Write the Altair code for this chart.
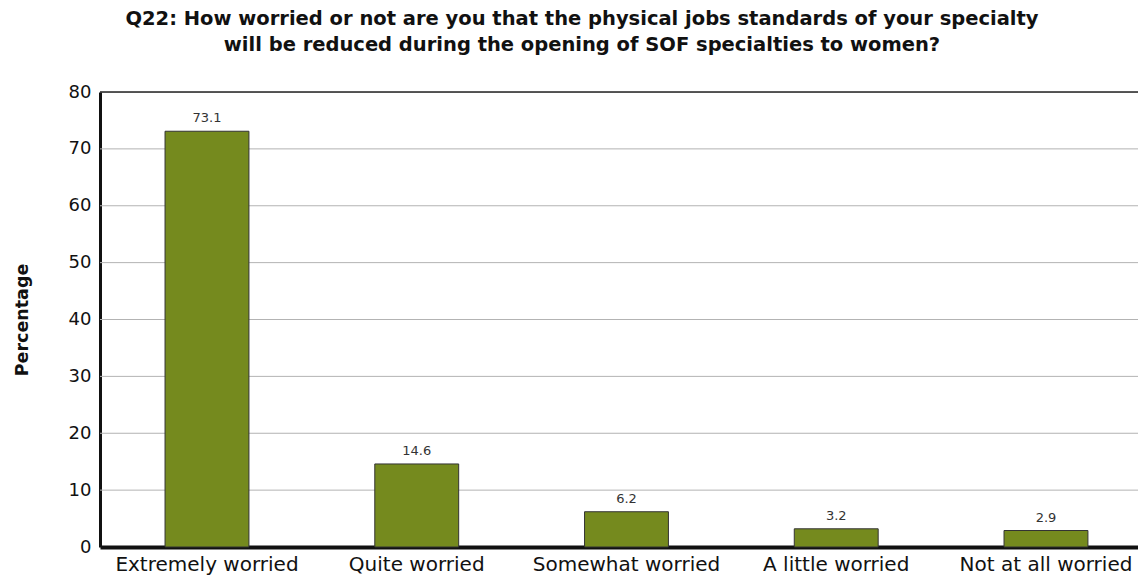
import altair as alt
import pandas as pd

categories = ["Extremely worried", "Quite worried", "Somewhat worried", "A little worried", "Not at all worried"]
values = [73.1, 14.6, 6.2, 3.2, 2.9]
labels = ["73.1", "14.6", "6.2", "3.2", "2.9"]
grid_values = [10, 20, 30, 40, 50, 60, 70]
top_value = [80]

df = pd.DataFrame({"cat": categories, "val": values, "lab": labels})
grid_df = pd.DataFrame({"g": grid_values})
top_df = pd.DataFrame({"g": top_value})

FONT = "DejaVu Sans"

xscale = alt.Scale(domain=categories, paddingInner=0.6, paddingOuter=0.2744, align=0.565)
yscale = alt.Scale(domain=[0, 80])

grid = alt.Chart(grid_df).mark_rule(color="#b3b3b3", strokeWidth=1).encode(
    y=alt.Y("g:Q", scale=yscale)
)
top = alt.Chart(top_df).mark_rule(color="#222222", strokeWidth=1.5).encode(
    y=alt.Y("g:Q", scale=yscale)
)

bars = alt.Chart(df).mark_bar(color="#758a1e", stroke="#333333", strokeWidth=1).encode(
    x=alt.X("cat:N", scale=xscale, sort=categories,
            axis=alt.Axis(title=None, labelAngle=0, ticks=False, domainColor="#111111",
                          domainWidth=4, labelFontSize=20, labelFont=FONT,
                          labelColor="#111111", labelPadding=7, labelLimit=0,
                          labelOverlap=False)),
    y=alt.Y("val:Q", scale=yscale,
            axis=alt.Axis(title="Percentage", values=[0, 10, 20, 30, 40, 50, 60, 70, 80],
                          grid=False, ticks=False, domainColor="#111111", domainWidth=3,
                          labelFontSize=18, labelFont=FONT, labelColor="#111111",
                          labelPadding=9, titleFont=FONT, titleFontSize=17.5,
                          titleFontWeight="bold", titleColor="#111111", titlePadding=37)),
)

text = alt.Chart(df).mark_text(baseline="bottom", dy=-6, fontSize=13, font=FONT, color="#333333").encode(
    x=alt.X("cat:N", scale=xscale, sort=categories),
    y=alt.Y("val:Q", scale=yscale),
    text="lab:N",
)

chart = alt.layer(grid, top, bars, text).properties(
    width=1038,
    height=455,
    autosize=alt.AutoSizeParams(type="none"),
    padding={"left": 92, "top": 84, "right": 0, "bottom": 33},
    title=alt.TitleParams(
        ["Q22: How worried or not are you that the physical jobs standards of your specialty",
         "will be reduced during the opening of SOF specialties to women?"],
        font=FONT, fontSize=19.5, fontWeight="bold", color="#111111",
        anchor="middle", dx=-37, offset=28, lineHeight=26,
    ),
).configure_view(stroke=None).configure(background="white")

chart.save("out.html", embed_options={"renderer": "svg", "actions": False})
